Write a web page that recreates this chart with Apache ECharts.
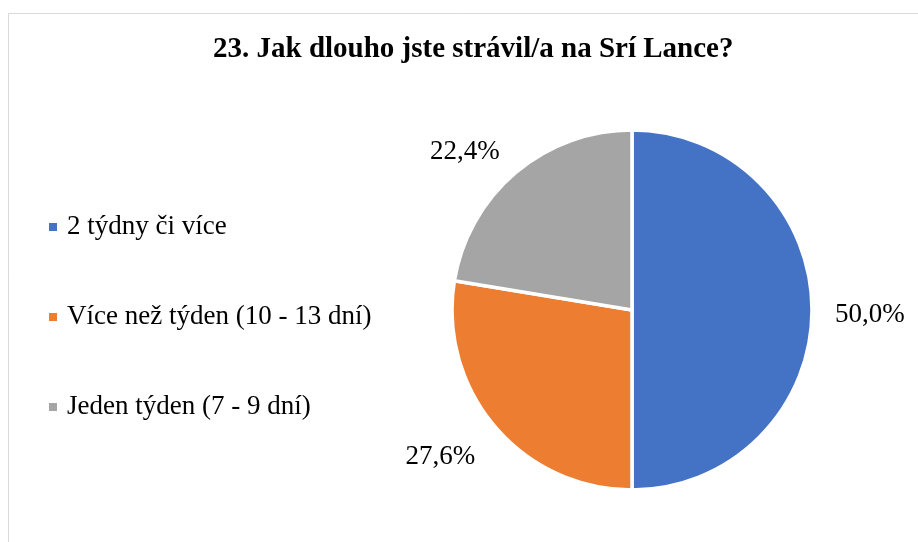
<!DOCTYPE html>
<html>
<head>
<meta charset="utf-8">
<script src="https://cdn.jsdelivr.net/npm/echarts@6/dist/echarts.min.js"></script>
<style>
html,body{margin:0;padding:0;background:#fff;}
#chart{width:918px;height:542px;}
</style>
</head>
<body>
<div id="chart"></div>
<script>
const titleText = '23. Jak dlouho jste strávil/a na Srí Lance?';
const categories = ['2 týdny či více', 'Více než týden (10 - 13 dní)', 'Jeden týden (7 - 9 dní)'];
const values = [50.0, 27.6, 22.4];
const colors = ['#4472C4', '#ED7D31', '#A5A5A5'];
// small label nudges to mimic the original "best fit" label placement
const labelOffsets = [[3, 5], [-3, 21], [-1, -9]];

const FONT = '"Liberation Serif", "Times New Roman", serif';
const chart = echarts.init(document.getElementById('chart'));
chart.setOption({
  animation: false,
  backgroundColor: '#fff',
  graphic: [{
    type: 'rect',
    shape: { x: 8.5, y: 13.5, width: 940, height: 560 },
    style: { fill: 'none', stroke: '#d9d9d9', lineWidth: 1 },
    silent: true
  }],
  title: {
    text: titleText,
    left: 208,
    top: 30,
    textStyle: { fontFamily: FONT, fontSize: 29, fontWeight: 'bold', color: '#000' }
  },
  legend: {
    orient: 'vertical',
    left: 47,
    top: 212,
    padding: 0,
    icon: 'rect',
    itemWidth: 10,
    itemHeight: 10,
    itemGap: 60,
    data: categories,
    textStyle: { fontFamily: FONT, fontSize: 27, color: '#000', lineHeight: 30, padding: [0, 0, 0, 4] }
  },
  series: [{
    type: 'pie',
    center: [632, 310],
    radius: 180,
    startAngle: 90,
    clockwise: true,
    color: colors,
    itemStyle: { borderColor: '#fff', borderWidth: 3.5 },
    label: {
      show: true,
      position: 'outside',
      fontFamily: FONT,
      fontSize: 27,
      color: '#000',
      formatter: function (p) { return p.value.toFixed(1).replace('.', ',') + '%'; }
    },
    labelLine: { show: false, length: 15, length2: 0 },
    emphasis: { disabled: true },
    data: categories.map((c, i) => ({ name: c, value: values[i], label: { offset: labelOffsets[i] } }))
  }]
});
</script>
</body>
</html>
